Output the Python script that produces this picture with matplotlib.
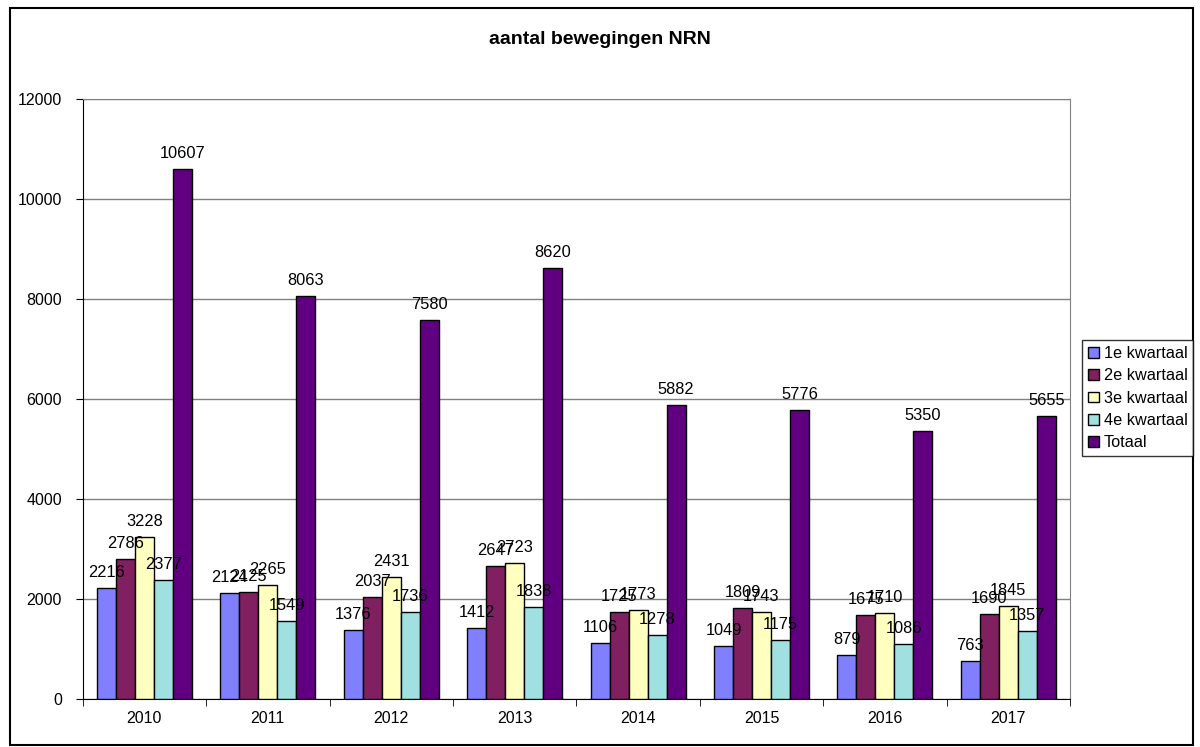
import numpy as np
import matplotlib.pyplot as plt
from matplotlib.patches import Rectangle

plt.rcParams['font.family'] = ['Liberation Sans', 'DejaVu Sans']

years = ['2010', '2011', '2012', '2013', '2014', '2015', '2016', '2017']
kw1 = [2216, 2124, 1376, 1412, 1106, 1049, 879, 763]
kw2 = [2786, 2125, 2037, 2647, 1725, 1809, 1675, 1690]
kw3 = [3228, 2265, 2431, 2723, 1773, 1743, 1710, 1845]
kw4 = [2377, 1549, 1736, 1838, 1278, 1175, 1086, 1357]
totaal = [10607, 8063, 7580, 8620, 5882, 5776, 5350, 5655]

series = [('1e kwartaal', kw1, '#8080FF'),
          ('2e kwartaal', kw2, '#802060'),
          ('3e kwartaal', kw3, '#FFFFC0'),
          ('4e kwartaal', kw4, '#A0E0E0'),
          ('Totaal', totaal, '#600080')]

fig = plt.figure(figsize=(12, 7.47), dpi=100)
ax = fig.add_axes([0.0689, 0.0647, 0.8228, 0.8028])

x = np.arange(len(years))
w = 0.154
for i, (name, vals, col) in enumerate(series):
    pos = x + (i - 2) * w
    ax.bar(pos, vals, w, color=col, edgecolor='black', linewidth=1, label=name, zorder=3)
    for p, v in zip(pos, vals):
        ax.text(p, v + 160, str(v), ha='center', va='bottom', fontsize=11.8, zorder=4)

ax.set_xlim(-0.5, len(years) - 0.5)
ax.set_ylim(0, 12000)
ax.set_yticks(range(0, 12001, 2000))
ax.yaxis.grid(True, color='#808080', linewidth=1, zorder=0)
ax.set_xticks(x)
ax.set_xticklabels(years)
ax.set_xticks(np.arange(-0.5, len(years), 1), minor=True)
ax.tick_params(axis='x', which='major', length=0, labelsize=11.5, pad=9)
ax.tick_params(axis='x', which='minor', length=5, color='black')
ax.tick_params(axis='y', labelsize=11.5, length=5, color='black', pad=10)
ax.spines['left'].set_color('black')
ax.spines['bottom'].set_color('black')
ax.spines['right'].set_color('#808080')
ax.spines['top'].set_color('#808080')

fig.text(0.5, 1 - 40 / 747, 'aantal bewegingen NRN', ha='center', va='center',
         fontsize=14, fontweight='bold')

handles, labels = ax.get_legend_handles_labels()
leg = fig.legend(handles, labels, loc='center left', bbox_to_anchor=(0.902, 0.467),
                 fontsize=11.7, frameon=True, fancybox=False, edgecolor='black',
                 handlelength=0.65, handleheight=0.65, handletextpad=0.3,
                 borderaxespad=0, borderpad=0.35, labelspacing=0.45)
leg.get_frame().set_linewidth(1)

fig.patches.append(Rectangle((0.008, 0.003), 0.986, 0.986, transform=fig.transFigure,
                             fill=False, edgecolor='black', linewidth=1.5))

fig.savefig('out.png', dpi=100)
